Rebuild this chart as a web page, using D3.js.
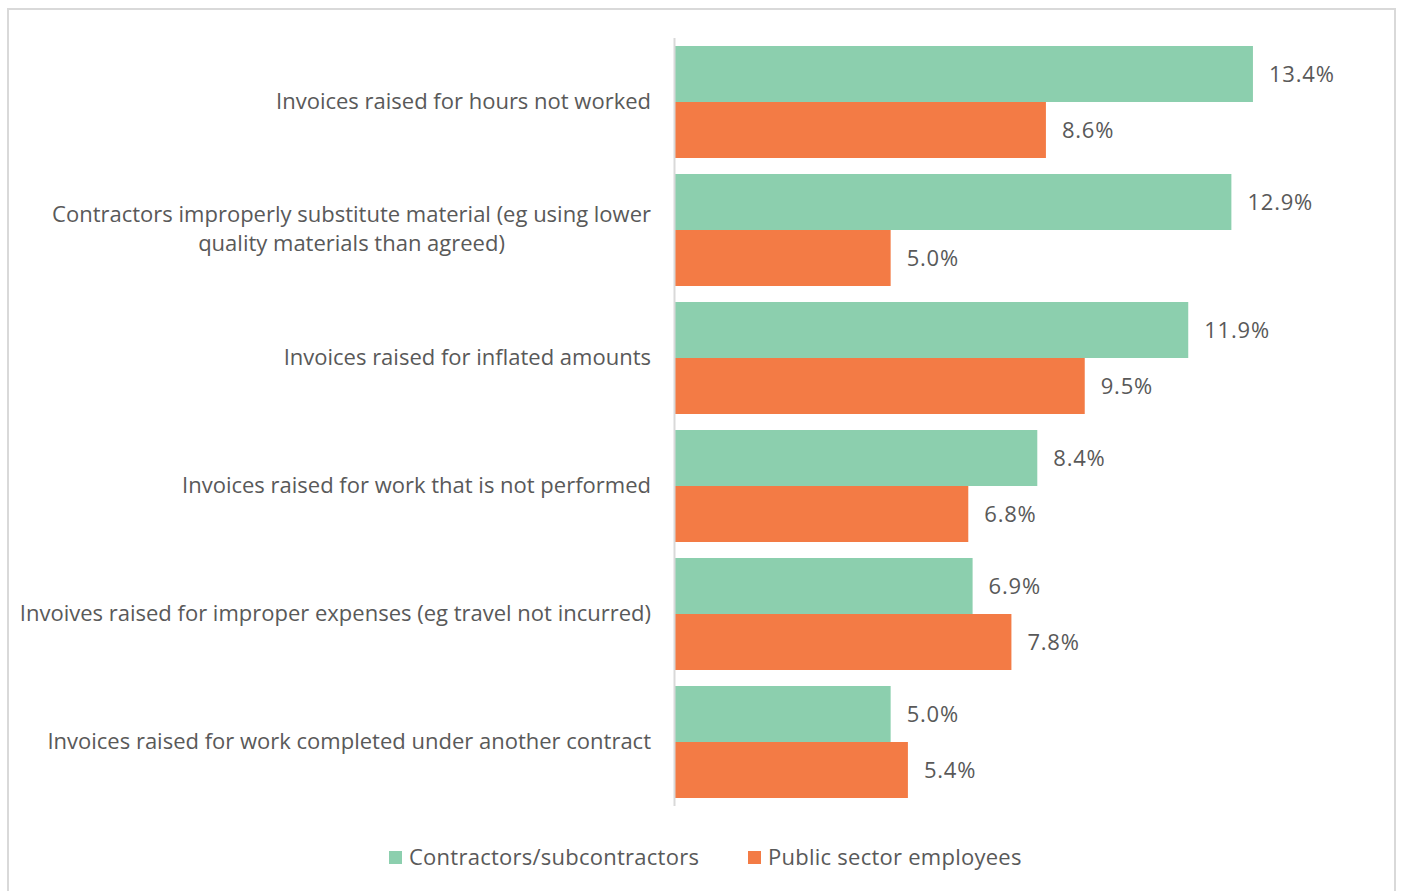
<!DOCTYPE html>
<html>
<head>
<meta charset="utf-8">
<script src="https://cdn.jsdelivr.net/npm/d3@7"></script>
<style>
  html, body { margin: 0; padding: 0; background: #fff; }
  svg { display: block; }
  text { font-family: "Open Sans", "Noto Sans", sans-serif; fill: #595959; }
</style>
</head>
<body>
<svg id="chart" width="1402" height="891"></svg>
<script>
// Fraud types (each label split into display lines)
const categories = [
  ["Invoices raised for hours not worked"],
  ["Contractors improperly substitute material (eg using lower", "quality materials than agreed)"],
  ["Invoices raised for inflated amounts"],
  ["Invoices raised for work that is not performed"],
  ["Invoives raised for improper expenses (eg travel not incurred)"],
  ["Invoices raised for work completed under another contract"]
];
const seriesNames = ["Contractors/subcontractors", "Public sector employees"];
const contractors = [13.4, 12.9, 11.9, 8.4, 6.9, 5.0];
const publicSector = [8.6, 5.0, 9.5, 6.8, 7.8, 5.4];
const colors = ["#8ccfae", "#f37b45"];

const svg = d3.select("#chart");

// outer frame
svg.append("rect")
  .attr("x", 8).attr("y", 9).attr("width", 1387).attr("height", 900)
  .attr("fill", "#fff").attr("stroke", "#d9d9d9").attr("stroke-width", 2);

const x0 = 675, plotTop = 38, plotBottom = 806;
const x = d3.scaleLinear().domain([0, 1]).range([x0, x0 + 43.13]);
const keys = categories.map((c, i) => i);
const y = d3.scaleBand().domain(keys).range([plotTop, plotBottom]).paddingInner(0.125).paddingOuter(0.0625);
const ySub = d3.scaleBand().domain([0, 1]).range([0, y.bandwidth()]);

const values = [contractors, publicSector];

const g = svg.append("g");
keys.forEach(i => {
  const grp = g.append("g").attr("transform", `translate(0,${y(i)})`);
  [0, 1].forEach(s => {
    const v = values[s][i];
    grp.append("rect")
      .attr("x", x(0)).attr("y", ySub(s))
      .attr("width", x(v) - x(0)).attr("height", ySub.bandwidth())
      .attr("fill", colors[s]);
    grp.append("text")
      .attr("x", x(v) + 16).attr("y", ySub(s) + ySub.bandwidth() / 2)
      .attr("dy", "0.35em")
      .attr("font-size", 22)
      .attr("letter-spacing", 0.8)
      .text(v.toFixed(1) + "%");
  });
});

// category axis line
svg.append("line")
  .attr("x1", x0 - 0.5).attr("x2", x0 - 0.5).attr("y1", plotTop).attr("y2", plotBottom)
  .attr("stroke", "#d9d9d9").attr("stroke-width", 2);

// category labels: right aligned block, lines centered within it
const labelSize = 22;
keys.forEach(i => {
  const lines = categories[i];
  const cy = y(i) + y.bandwidth() / 2 - 1;
  const lh = 29;
  const t = svg.append("text").attr("font-size", labelSize);
  const probe = svg.append("text").attr("font-size", labelSize);
  let maxW = 0;
  lines.forEach(l => { probe.text(l); maxW = Math.max(maxW, probe.node().getComputedTextLength()); });
  probe.remove();
  const right = 651;
  const center = right - maxW / 2;
  lines.forEach((l, k) => {
    t.append("tspan")
      .attr("x", center)
      .attr("text-anchor", "middle")
      .attr("y", cy + (k - (lines.length - 1) / 2) * lh)
      .attr("dy", "0.35em")
      .text(l);
  });
});

// legend
const legend = svg.append("g");
const legendX = [389, 748];
seriesNames.forEach((n, s) => {
  legend.append("rect")
    .attr("x", legendX[s]).attr("y", 851).attr("width", 13).attr("height", 13)
    .attr("fill", colors[s]);
  legend.append("text")
    .attr("x", legendX[s] + 20).attr("y", 857.5).attr("dy", "0.35em")
    .attr("font-size", 22)
    .attr("letter-spacing", 0.25)
    .text(n);
});
</script>
</body>
</html>
